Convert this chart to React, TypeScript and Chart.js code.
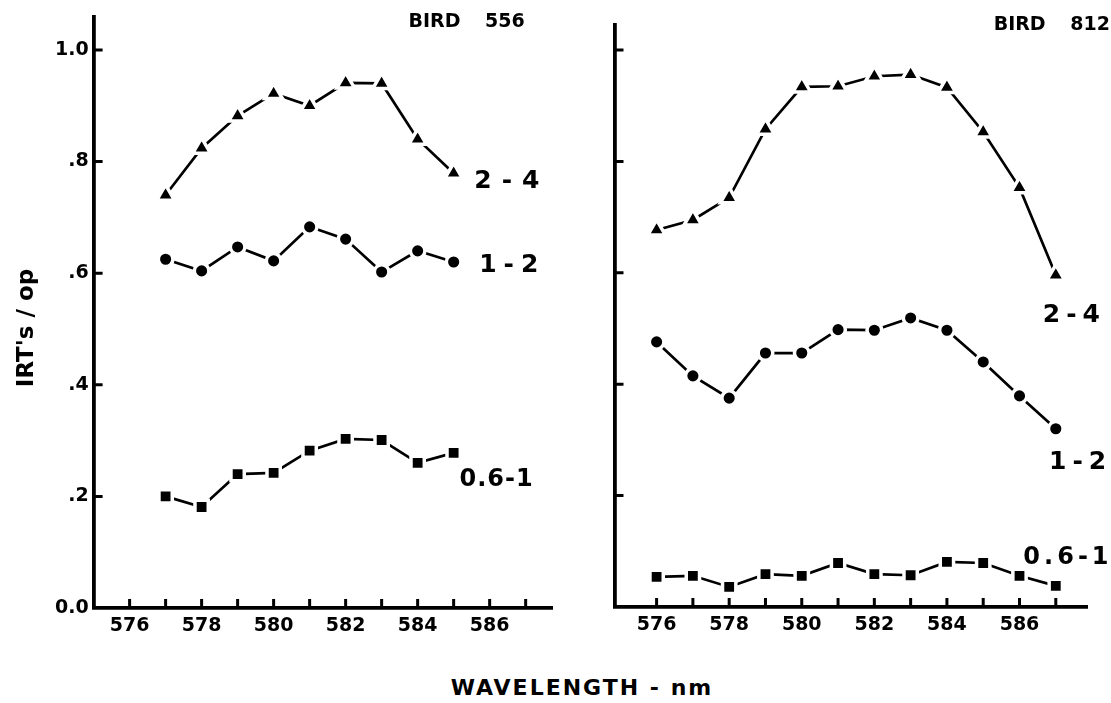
import React, { useEffect, useRef } from 'react';
import { Chart, registerables } from 'chart.js';

Chart.register(...registerables);

// ---------------- data ----------------
const leftWavelengths = [577, 578, 579, 580, 581, 582, 583, 584, 585];
const left24 = [0.740, 0.824, 0.882, 0.922, 0.900, 0.941, 0.940, 0.840, 0.779];
const left12 = [0.625, 0.604, 0.647, 0.622, 0.683, 0.661, 0.602, 0.640, 0.620];
const left061 = [0.200, 0.181, 0.240, 0.242, 0.282, 0.303, 0.301, 0.260, 0.278];

const rightWavelengths = [576, 577, 578, 579, 580, 581, 582, 583, 584, 585, 586, 587];
const right24 = [0.677, 0.695, 0.735, 0.858, 0.934, 0.935, 0.953, 0.956, 0.933, 0.853, 0.753, 0.596];
const right12 = [0.476, 0.415, 0.375, 0.456, 0.456, 0.498, 0.497, 0.519, 0.497, 0.440, 0.379, 0.320];
const right061 = [0.054, 0.056, 0.036, 0.059, 0.056, 0.079, 0.059, 0.057, 0.081, 0.079, 0.056, 0.038];

const xTickValues = [576, 577, 578, 579, 580, 581, 582, 583, 584, 585, 586, 587];
const xTickLabels = ['576', '', '578', '', '580', '', '582', '', '584', '', '586', ''];
const yTickValues = [0, 0.2, 0.4, 0.6, 0.8, 1.0];
const yTickLabels = ['0.0', '.2', '.4', '.6', '.8', '1.0'];

const panelTitles = ['BIRD 556', 'BIRD 812'];
const seriesNames = ['2-4', '1-2', '0.6-1'];
const yTitle = "IRT's / op";
const xTitle = 'WAVELENGTH - nm';

// ---------------- styling / layout ----------------
const FONT = '"DejaVu Sans", Verdana, sans-serif';
const markerStyles = ['triangle', 'circle', 'rect'];
const markerRadii = [10.2, 7.3, 9.4];
const haloWidth = 3.5;

type LabelSpot = { x: number; y: number; size: number; ls: number };

type Panel = {
  canvasLeft: number;
  width: number;
  height: number;
  xMin: number;
  xMax: number;
  yMax: number;
  padTop: number;
  padRight: number;
  yWidth: number;
  xHeight: number;
  wavelengths: number[];
  series: number[][];
  title: string;
  titleSpot: { x: number; y: number };
  labelSpots: LabelSpot[];
  showYLabels: boolean;
  drawYTitle: boolean;
};

const panels: Panel[] = [
  {
    canvasLeft: 0,
    width: 566,
    height: 660,
    xMin: 575.0,
    xMax: 587.74,
    yMax: 1.059,
    padTop: 17,
    padRight: 5,
    yWidth: 93.6,
    xHeight: 52,
    wavelengths: leftWavelengths,
    series: [left24, left12, left061],
    title: panelTitles[0],
    titleSpot: { x: 585.36, y: 1.05 },
    labelSpots: [
      { x: 586.48, y: 0.765, size: 25, ls: 10 },
      { x: 586.53, y: 0.613, size: 25, ls: 7 },
      { x: 586.18, y: 0.229, size: 24, ls: 1 },
    ],
    showYLabels: true,
    drawYTitle: true,
  },
  {
    canvasLeft: 560,
    width: 551,
    height: 660,
    xMin: 574.84,
    xMax: 587.86,
    yMax: 1.045,
    padTop: 25,
    padRight: 24,
    yWidth: 54.5,
    xHeight: 53,
    wavelengths: rightWavelengths,
    series: [right24, right12, right061],
    title: panelTitles[1],
    titleSpot: { x: 586.89, y: 1.045 },
    labelSpots: [
      { x: 587.43, y: 0.524, size: 25, ls: 6 },
      { x: 587.6, y: 0.26, size: 25, ls: 6 },
      { x: 587.28, y: 0.088, size: 24, ls: 4 },
    ],
    showYLabels: false,
    drawYTitle: false,
  },
];

function decorPlugin(p: Panel) {
  return {
    id: 'decor',
    afterDraw(chart: any) {
      const ctx = chart.ctx as CanvasRenderingContext2D;
      const xs = chart.scales.x;
      const ys = chart.scales.y;
      const { left, bottom } = chart.chartArea;
      ctx.save();
      // inward tick marks
      ctx.strokeStyle = '#000';
      ctx.lineWidth = 3;
      ctx.beginPath();
      yTickValues.forEach((v) => {
        if (v === 0) return;
        const py = ys.getPixelForValue(v);
        ctx.moveTo(left, py);
        ctx.lineTo(left + 9, py);
      });
      xTickValues.forEach((v) => {
        const px = xs.getPixelForValue(v);
        ctx.moveTo(px, bottom);
        ctx.lineTo(px, bottom - 9);
      });
      ctx.stroke();

      ctx.fillStyle = '#000';
      ctx.textAlign = 'center';
      ctx.textBaseline = 'middle';
      const c: any = ctx;
      // panel title
      ctx.font = `bold 19px ${FONT}`;
      c.letterSpacing = '0px';
      c.wordSpacing = '18px';
      ctx.fillText(p.title, xs.getPixelForValue(p.titleSpot.x), ys.getPixelForValue(p.titleSpot.y));
      c.wordSpacing = '0px';
      // series labels
      p.labelSpots.forEach((s, i) => {
        ctx.font = `bold ${s.size}px ${FONT}`;
        c.letterSpacing = `${s.ls}px`;
        ctx.fillText(seriesNames[i], xs.getPixelForValue(s.x) + s.ls / 2, ys.getPixelForValue(s.y));
      });
      c.letterSpacing = '0px';
      // y title
      if (p.drawYTitle) {
        ctx.save();
        ctx.translate(27, 328);
        ctx.rotate(-Math.PI / 2);
        ctx.font = `bold 23px ${FONT}`;
        ctx.fillText(yTitle, 0, 0);
        ctx.restore();
      }
      ctx.restore();
    },
  };
}

function makeChart(canvas: HTMLCanvasElement, p: Panel) {
  const datasets = p.series.map((vals, i) => ({
    label: seriesNames[i],
    data: p.wavelengths.map((w, j) => ({ x: w, y: vals[j] })),
    borderColor: '#000',
    borderWidth: 2.7,
    pointStyle: markerStyles[i],
    pointRadius: markerRadii[i],
    pointBackgroundColor: '#000',
    pointBorderColor: '#fff',
    pointBorderWidth: haloWidth,
    tension: 0,
    fill: false,
  }));
  const tickFont = { family: FONT, size: 19, weight: 'bold' as const };
  return new Chart(canvas, {
    type: 'line',
    data: { datasets } as any,
    options: {
      animation: false,
      responsive: false,
      devicePixelRatio: 1,
      layout: { padding: { left: 0, top: p.padTop, right: p.padRight, bottom: 0 } },
      plugins: {
        legend: { display: false },
        tooltip: { enabled: false },
        title: { display: false },
      },
      scales: {
        x: {
          type: 'linear',
          min: p.xMin,
          max: p.xMax,
          afterBuildTicks: (s: any) => {
            s.ticks = xTickValues.map((v) => ({ value: v }));
          },
          afterFit: (s: any) => {
            s.height = p.xHeight;
          },
          grid: { display: false, drawTicks: false },
          border: { display: true, color: '#000', width: 3.8 },
          ticks: {
            autoSkip: false,
            maxRotation: 0,
            padding: 7,
            color: '#000',
            font: tickFont,
            callback: (_v: any, i: number) => xTickLabels[i],
          },
        },
        y: {
          type: 'linear',
          min: 0,
          max: p.yMax,
          afterBuildTicks: (s: any) => {
            s.ticks = yTickValues.map((v) => ({ value: v }));
          },
          afterFit: (s: any) => {
            s.width = p.yWidth;
          },
          grid: { display: false, drawTicks: false },
          border: { display: true, color: '#000', width: 3.8 },
          ticks: {
            padding: 5,
            color: '#000',
            font: tickFont,
            callback: (_v: any, i: number) => (p.showYLabels ? yTickLabels[i] : ''),
          },
        },
      },
    } as any,
    plugins: [decorPlugin(p)],
  });
}

export default function App() {
  const leftRef = useRef<HTMLCanvasElement>(null);
  const rightRef = useRef<HTMLCanvasElement>(null);

  useEffect(() => {
    document.body.style.margin = '0';
    const charts: Chart[] = [];
    if (leftRef.current) charts.push(makeChart(leftRef.current, panels[0]));
    if (rightRef.current) charts.push(makeChart(rightRef.current, panels[1]));
    return () => charts.forEach((c) => c.destroy());
  }, []);

  return (
    <div style={{ position: 'relative', width: 1111, height: 703, background: '#fff', overflow: 'hidden' }}>
      <canvas
        ref={leftRef}
        width={panels[0].width}
        height={panels[0].height}
        style={{ position: 'absolute', left: panels[0].canvasLeft, top: 0, display: 'block' }}
      />
      <canvas
        ref={rightRef}
        width={panels[1].width}
        height={panels[1].height}
        style={{ position: 'absolute', left: panels[1].canvasLeft, top: 0, display: 'block' }}
      />
      <div
        style={{
          position: 'absolute',
          left: 282,
          top: 674,
          width: 600,
          lineHeight: '28px',
          textAlign: 'center',
          fontFamily: FONT,
          fontWeight: 'bold',
          fontSize: 22,
          letterSpacing: 2,
          color: '#000',
          whiteSpace: 'pre',
        }}
      >
        {xTitle}
      </div>
    </div>
  );
}
